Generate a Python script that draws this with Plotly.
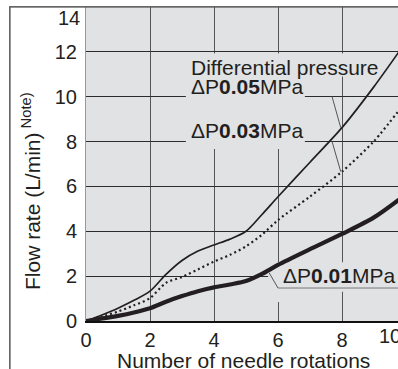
import numpy as np
import plotly.graph_objects as go

# ---- data ----
rotations = [0, 0.5, 1, 1.5, 2, 2.5, 3, 3.5, 4, 4.5, 5, 5.5, 6, 7, 8, 9, 10]
flow_005 = [0, 0.27, 0.57, 0.92, 1.33, 2.08, 2.7, 3.12, 3.39, 3.65, 4.0, 4.75, 5.54, 7.08, 8.62, 10.45, 12.45]
flow_003 = [0, 0.2, 0.42, 0.7, 1.02, 1.7, 1.96, 2.3, 2.65, 2.95, 3.33, 3.85, 4.5, 5.55, 6.66, 8.02, 9.8]
flow_001 = [0, 0.11, 0.23, 0.38, 0.57, 0.86, 1.11, 1.33, 1.5, 1.63, 1.78, 2.1, 2.5, 3.2, 3.88, 4.62, 5.65]

x_ticks = [0, 2, 4, 6, 8]
y_ticks = [0, 2, 4, 6, 8, 10, 12]

FONT = "Liberation Sans, Arial, sans-serif"
BG = "#e1e2e4"
INK = "#231f20"

W, H = 398, 369
ML, MT, MB = 86, 7, 48
PW, PH = W - ML, H - MT - MB
XMAX = PW / 32.0   # x-axis range visible in the window (10 lies just off-screen)

fig = go.Figure()
fig.add_trace(go.Scatter(x=rotations, y=flow_005, mode="lines", line=dict(color=INK, width=1.7, shape="spline", smoothing=0.8), showlegend=False))
fig.add_trace(go.Scatter(x=rotations, y=flow_003, mode="lines", line=dict(color=INK, width=2.2, dash="2px,3px", shape="spline", smoothing=0.8), showlegend=False))
fig.add_trace(go.Scatter(x=rotations, y=flow_001, mode="lines", line=dict(color=INK, width=4.2, shape="spline", smoothing=0.8), showlegend=False))

shapes = []
# label background boxes (hide gridlines behind labels, under traces)
for x0, x1, y0, y1 in [(3.12, 6.84, 7.67, 11.93), (6.84, 9.4, 10.9, 11.93), (5.69, 7.6, 0.85, 2.62), (7.6, XMAX, 1.3, 2.62)]:
    shapes.append(dict(type="rect", xref="x", yref="y", x0=x0, x1=x1, y0=y0, y1=y1,
                       fillcolor=BG, line=dict(width=0), layer="between"))
# leader lines
y05_8 = float(np.interp(8, rotations, flow_005))
y03_8 = float(np.interp(8, rotations, flow_003))
y01_57 = float(np.interp(5.72, rotations, flow_001))
lead = dict(color="#555", width=1)
shapes.append(dict(type="line", xref="x", yref="y", x0=7.69, y0=10, x1=7.96, y1=y05_8, line=lead))
shapes.append(dict(type="line", xref="x", yref="y", x0=7.69, y0=8, x1=7.96, y1=y03_8, line=lead))
shapes.append(dict(type="line", xref="x", yref="y", x0=6.0, y0=1.47, x1=XMAX, y1=1.47, line=dict(color="#777", width=1)))
shapes.append(dict(type="line", xref="x", yref="y", x0=6.0, y0=1.47, x1=5.72, y1=y01_57 - 0.12, line=lead))
# outer frame (left and top)
fx = (10 - ML) / PW
shapes.append(dict(type="line", xref="paper", yref="paper", x0=fx, x1=fx, y0=1, y1=-MB / PH, line=dict(color="#777", width=1.3)))
shapes.append(dict(type="line", xref="paper", yref="paper", x0=fx, x1=1.05, y0=1, y1=1, line=dict(color="#444", width=1.2)))

ann = []
lab = dict(size=21, color=INK, family=FONT)
tickf = dict(size=20, color=INK, family=FONT)
# frame box: only its left and top edges fall inside the picture
ann.append(dict(x=fx, y=1, xref="paper", yref="paper", text="", showarrow=False, xanchor="left", yanchor="top",
                width=600, height=600, bordercolor="#666", borderwidth=1.2, borderpad=0, xshift=-1, yshift=1))
ann.append(dict(x=3.22, y=11.32, xref="x", yref="y", text="Differential pressure", showarrow=False, xanchor="left", yanchor="middle", font=lab))
ann.append(dict(x=3.22, y=10.45, xref="x", yref="y", text="ΔP<b>0.05</b>MPa", showarrow=False, xanchor="left", yanchor="middle", font=lab))
ann.append(dict(x=3.22, y=8.48, xref="x", yref="y", text="ΔP<b>0.03</b>MPa", showarrow=False, xanchor="left", yanchor="middle", font=lab))
ann.append(dict(x=6.1, y=2.05, xref="x", yref="y", text="ΔP<b>0.01</b>MPa", showarrow=False, xanchor="left", yanchor="middle", font=lab))
# tick label "10" nudged to fit at the right edge, and "14" nudged below the top edge
ann.append(dict(x=(377 - ML) / PW, y=0, xref="paper", yref="paper", text="10", showarrow=False, xanchor="left", yanchor="top", yshift=-2, font=tickf))
ann.append(dict(x=0, y=1, xref="paper", yref="paper", text="14", showarrow=False, xanchor="right", yanchor="top", xshift=-4, yshift=2, font=tickf))
# axis titles
ann.append(dict(x=(243 - ML) / PW, y=-(360 - (H - MB)) / PH, xref="paper", yref="paper",
                text="Number of needle rotations", showarrow=False, xanchor="center", yanchor="middle", font=lab))
ann.append(dict(x=(31 - ML) / PW, y=((H - MB) - 191) / PH, xref="paper", yref="paper",
                text="Flow rate (L/min)<sup> Note)</sup>", textangle=-90, showarrow=False, xanchor="center", yanchor="middle", font=lab))

fig.update_layout(
    width=W, height=H,
    margin=dict(l=ML, r=0, t=MT, b=MB, pad=0, autoexpand=False),
    paper_bgcolor="white", plot_bgcolor=BG,
    shapes=shapes, annotations=ann,
    font=dict(family=FONT, color=INK),
    xaxis=dict(range=[0, XMAX], tickvals=x_ticks, ticktext=[str(v) for v in x_ticks],
               showgrid=True, gridcolor="#555", gridwidth=1, zeroline=False, automargin=False,
               showline=True, linecolor="#111", linewidth=2, ticks="", tickfont=tickf),
    yaxis=dict(range=[0, 14], tickvals=y_ticks, showgrid=True, gridcolor="#2c2c2c", gridwidth=1,
               zeroline=False, showline=True, linecolor="#999", linewidth=1, ticks="", automargin=False,
               tickfont=tickf, ticklabelstandoff=4),
)

fig.write_html("out.html", config={"displayModeBar": False},
               post_script="document.body.style.margin='0';document.body.style.overflow='hidden';")
